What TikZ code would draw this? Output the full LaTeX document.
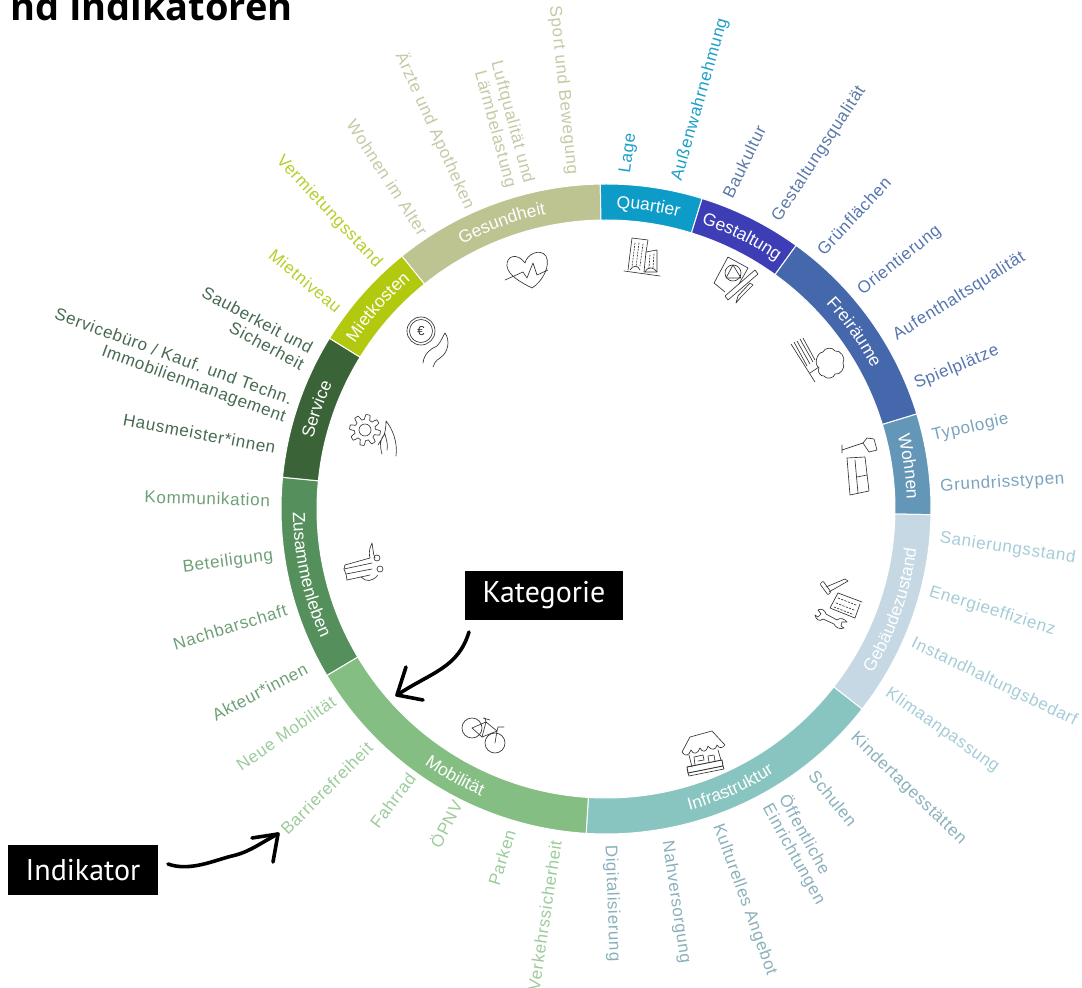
\documentclass[tikz,border=0pt]{standalone}
\usepackage{fontspec}
\setmainfont{Liberation Sans}
\newfontfamily\boxfont{PT Sans}
\newfontfamily\headfont{Open Sans}
\newfontfamily\indfamily[LetterSpace=4]{Liberation Sans}
\usetikzlibrary{positioning}
\usetikzlibrary{decorations.text}
\definecolor{quartierc}{RGB}{12,156,199}
\definecolor{gestaltungc}{RGB}{61,61,181}
\definecolor{freiraeumec}{RGB}{69,103,171}
\definecolor{wohnenc}{RGB}{100,150,184}
\definecolor{gebaeudec}{RGB}{197,216,227}
\definecolor{infrac}{RGB}{136,196,192}
\definecolor{mobilc}{RGB}{132,190,131}
\definecolor{zusammenc}{RGB}{85,144,92}
\definecolor{servicec}{RGB}{58,99,56}
\definecolor{mietec}{RGB}{179,201,15}
\definecolor{gesundc}{RGB}{189,196,146}
\definecolor{quartierl}{RGB}{30,159,199}
\definecolor{gestaltungl}{RGB}{92,121,168}
\definecolor{freiraeumel}{RGB}{86,117,176}
\definecolor{wohnenl}{RGB}{123,163,190}
\definecolor{gebaeudel}{RGB}{165,204,216}
\definecolor{infral}{RGB}{138,176,188}
\definecolor{mobill}{RGB}{156,203,156}
\definecolor{zusammenl}{RGB}{110,159,118}
\definecolor{servicel}{RGB}{72,106,80}
\definecolor{mietel}{RGB}{184,205,40}
\definecolor{gesundl}{RGB}{197,201,165}
\newcommand{\indfont}{\indfamily\fontsize{17}{18.5}\selectfont}
\newcommand{\ringfont}{\fontsize{17.5}{19}\selectfont}
\tikzset{
  indleft/.style={font=\indfont, inner sep=0pt, anchor=east, align=right},
  indright/.style={font=\indfont, inner sep=0pt, anchor=west, align=left},
  segm/.style={draw=white, line width=1pt},
  ringtext/.style={decorate, decoration={text along path, text align=center,
    text={|\ringfont\color{white}|#1}}},
  blackbox/.style={fill=black, text=white, font=\boxfont\fontsize{30}{32}\selectfont, inner sep=0pt},
  handarrow/.style={line width=3.6pt, line cap=round, line join=round},
  icon/.style={line width=0.65pt, black!80, line cap=round, line join=round},
  imgpx/.style={shift={(-606,509)}, yscale=-1}
}

\begin{document}
\begin{tikzpicture}[x=1pt,y=1pt]
\path[use as bounding box, clip] (-606,-479) rectangle (476,509);

\node[anchor=base east, inner sep=0pt, font=\headfont\bfseries\fontsize{38}{40}\selectfont] (title) at (-313,488) {nd Indikatoren};

% ring
\filldraw[segm, fill=gesundc] (128.9:325) arc[start angle=128.9,end angle=91,radius=325] -- (91:289) arc[start angle=91,end angle=128.9,radius=289] -- cycle;
\filldraw[segm, fill=quartierc] (91:325) arc[start angle=91,end angle=72.8,radius=325] -- (72.8:289) arc[start angle=72.8,end angle=91,radius=289] -- cycle;
\filldraw[segm, fill=gestaltungc] (72.8:325) arc[start angle=72.8,end angle=54.2,radius=325] -- (54.2:289) arc[start angle=54.2,end angle=72.8,radius=289] -- cycle;
\filldraw[segm, fill=freiraeumec] (54.2:325) arc[start angle=54.2,end angle=17,radius=325] -- (17:289) arc[start angle=17,end angle=54.2,radius=289] -- cycle;
\filldraw[segm, fill=wohnenc] (17:325) arc[start angle=17,end angle=-1,radius=325] -- (-1:289) arc[start angle=-1,end angle=17,radius=289] -- cycle;
\filldraw[segm, fill=gebaeudec] (-1:325) arc[start angle=-1,end angle=-38,radius=325] -- (-38:289) arc[start angle=-38,end angle=-1,radius=289] -- cycle;
\filldraw[segm, fill=infrac] (-38:325) arc[start angle=-38,end angle=-93.5,radius=325] -- (-93.5:289) arc[start angle=-93.5,end angle=-38,radius=289] -- cycle;
\filldraw[segm, fill=mobilc] (266.5:325) arc[start angle=266.5,end angle=210.8,radius=325] -- (210.8:289) arc[start angle=210.8,end angle=266.5,radius=289] -- cycle;
\filldraw[segm, fill=zusammenc] (210.8:325) arc[start angle=210.8,end angle=174.4,radius=325] -- (174.4:289) arc[start angle=174.4,end angle=210.8,radius=289] -- cycle;
\filldraw[segm, fill=servicec] (174.4:325) arc[start angle=174.4,end angle=148.3,radius=325] -- (148.3:289) arc[start angle=148.3,end angle=174.4,radius=289] -- cycle;
\filldraw[segm, fill=mietec] (148.3:325) arc[start angle=148.3,end angle=128.9,radius=325] -- (128.9:289) arc[start angle=128.9,end angle=148.3,radius=289] -- cycle;

% category names
\path[ringtext=Gesundheit] (130:301) arc[start angle=130,end angle=90,radius=301];
\path[ringtext=Quartier] (92:301) arc[start angle=92,end angle=72,radius=301];
\path[ringtext=Gestaltung] (74:301) arc[start angle=74,end angle=53,radius=301];
\path[ringtext=Freiräume] (55:301) arc[start angle=55,end angle=16,radius=301];
\path[ringtext=Wohnen] (18:301) arc[start angle=18,end angle=-2,radius=301];
\path[ringtext=Gebäudezustand] (-38:313) arc[start angle=-38,end angle=-1,radius=313];
\path[ringtext=Infrastruktur] (-93:313) arc[start angle=-93,end angle=-39,radius=313];
\path[ringtext=Mobilität] (212:313) arc[start angle=212,end angle=269,radius=313];
\path[ringtext=Zusammenleben] (174:313) arc[start angle=174,end angle=211,radius=313];
\path[ringtext=Service] (175:301) arc[start angle=175,end angle=147,radius=301];
\path[ringtext=Mietkosten] (152:301) arc[start angle=152,end angle=125,radius=301];

% indicators
\node[indright, rotate=82, text=quartierl] (lage) at (86.6:336) {Lage};
\node[indright, rotate=74, text=quartierl] (aussen) at (77.8:336) {Außenwahrnehmung};
\node[indright, rotate=64, text=gestaltungl] (baukultur) at (68.8:335) {Baukultur};
\node[indright, rotate=57, text=gestaltungl] (gestqual) at (59.5:335) {Gestaltungsqualität};
\node[indright, rotate=47, text=freiraeumel] (gruen) at (50.2:334) {Grünflächen};
\node[indright, rotate=38.5, text=freiraeumel] (orient) at (40.5:334) {Orientierung};
\node[indright, rotate=32, text=freiraeumel] (aufent) at (30.8:336) {Aufenthaltsqualität};
\node[indright, rotate=22.5, text=freiraeumel] (spiel) at (21.9:333) {Spielplätze};
\node[indright, rotate=13, text=wohnenl] (typo) at (12.5:334) {Typologie};
\node[indright, rotate=3.5, text=wohnenl] (grund) at (3.8:335) {Grundrisstypen};
\node[indright, rotate=-8.5, text=gebaeudel] (sanier) at (-5:335) {Sanierungsstand};
\node[indright, rotate=-17, text=gebaeudel] (energie) at (-14.4:334) {Energieeffizienz};
\node[indright, rotate=-25.7, text=gebaeudel] (instand) at (-23.6:334) {Instandhaltungsbedarf};
\node[indright, rotate=-35, text=gebaeudel] (klima) at (-33:335) {Klimaanpassung};
\node[indright, rotate=-44, text=infral] (kinder) at (-42.5:335) {Kindertagesstätten};
\node[indright, rotate=-51, text=infral] (schulen) at (-52:335) {Schulen};
\node[indright, rotate=-61, text=infral] (oeffent) at (-59.9:337) {Öffentliche\\Einrichtungen};
\node[indright, rotate=-70, text=infral] (kultur) at (-70.6:335) {Kulturelles Angebot};
\node[indright, rotate=-81.6, text=infral] (nahv) at (-79.6:337) {Nahversorgung};
\node[indright, rotate=-88, text=infral] (digital) at (-89.3:336) {Digitalisierung};
\node[indleft, rotate=81.5, text=mobill] (verkehr) at (261.4:335) {Verkehrssicherheit};
\node[indleft, rotate=73, text=mobill] (parken) at (253.4:335) {Parken};
\node[indleft, rotate=63, text=mobill] (oepnv) at (243:328) {ÖPNV};
\node[indleft, rotate=53, text=mobill] (fahrrad) at (233.9:329) {Fahrrad};
\node[indleft, rotate=45, text=mobill] (barriere) at (225:334) {Barrierefreiheit};
\node[indleft, rotate=35, text=mobill] (neuemob) at (215:332) {Neue Mobilität};
\node[indleft, rotate=27.5, text=zusammenl] (akteur) at (207.9:339) {Akteur*innen};
\node[indleft, rotate=17, text=zusammenl] (nachbar) at (197.5:335) {Nachbarschaft};
\node[indleft, rotate=7.5, text=zusammenl] (beteil) at (188:336) {Beteiligung};
\node[indleft, rotate=-1.5, text=zusammenl] (kommu) at (178.5:336) {Kommunikation};
\node[indleft, rotate=-10.5, text=servicel] (haus) at (169.5:336) {Hausmeister*innen};
\node[indleft, rotate=-20, text=servicel] (servbuero) at (162.6:333) {Servicebüro / Kauf. und Techn.\\Immobilienmanagement};
\node[indleft, rotate=-28, text=servicel] (sauber) at (153:335) {Sauberkeit und\\Sicherheit};
\node[indleft, rotate=-40, text=mietel] (mietn) at (143.2:333) {Mietniveau};
\node[indleft, rotate=-47, text=mietel] (vermiet) at (133:333) {Vermietungsstand};
\node[indleft, rotate=-57, text=gesundl] (wohnalter) at (123.5:330) {Wohnen im Alter};
\node[indleft, rotate=-65.7, text=gesundl] (aerzte) at (114.3:330) {Ärzte und Apotheken};
\node[indleft, rotate=-75, text=gesundl] (luft) at (105:335) {Luftqualität und\\Lärmbelastung};
\node[indleft, rotate=-84, text=gesundl] (sport) at (95.8:336) {Sport und Bewegung};

% black labels
\node[blackbox, minimum width=158pt, minimum height=49pt] (kategorie) at (-62,-86.5) {Kategorie};
\node[blackbox, minimum width=150pt, minimum height=50pt] (indikator) at (-523,-361) {Indikator};

\begin{scope}[imgpx]
% hand drawn arrows
\coordinate (katstart) at (469,632);
\coordinate (kattip) at (397,695);
\coordinate (katbarba) at (406,667);
\coordinate (katbarbb) at (423,700);
\coordinate (indstart) at (168,864);
\coordinate (indtip) at (278,834);
\coordinate (indbarba) at (252,838);
\coordinate (indbarbb) at (273,862);
\draw[handarrow] (katstart) .. controls (458,668) and (432,672) .. (kattip);
\draw[handarrow] (katbarba) -- (kattip) -- (katbarbb);
\draw[handarrow] (indstart) .. controls (190,872) and (215,860) .. (232,856) .. controls (250,852) and (262,842) .. (indtip);
\draw[handarrow] (indbarba) -- (indtip) -- (indbarbb);

% heart
\draw[icon] (532,288) .. controls (520,282) and (508,275) .. (507,266) .. controls (506,256) and (517,252) .. (525,263) .. controls (527,254) and (540,248) .. (546,256) .. controls (551,266) and (542,282) .. (532,288);
\draw[icon] (505,280) -- (523,272) -- (527,278) -- (533,263) -- (537,275) -- (548,270);
% buildings
\draw[icon] (628,270) -- (632,238) -- (648,240) -- (646,252);
\draw[icon] (646,252) -- (657,250) -- (657,272) -- (644,272) -- (646,252);
\draw[icon] (624,271) -- (660,276);
\draw[icon, dash pattern=on 1.5pt off 1.5pt] (635,243) -- (632,267) (639,243) -- (636,267) (643,244) -- (640,266);
\draw[icon, dash pattern=on 1.5pt off 1.5pt] (650,255) -- (649,268) (654,254) -- (653,268);
\draw[icon] (630,270) .. controls (633,265) and (638,265) .. (640,270) (645,272) .. controls (648,266) and (654,267) .. (657,272);
% paper and ruler
\draw[icon] (728,257) -- (748,268) -- (739,284) (725,292) -- (714,283) -- (728,257);
\draw[icon] (733,273) circle (8);
\draw[icon] (733,265) -- (726,278) -- (741,278) -- cycle;
\draw[icon] (725,296) -- (755,270) -- (758,274) -- (728,300) -- cycle;
\draw[icon] (753,285) -- (741,297) -- (736,303) -- (738,296) -- (750,283) -- cycle;
% bench and tree
\draw[icon] (791,344) -- (815,382);
\draw[icon] (794,342) -- (807,366) (797,341) -- (810,364) (800,339) -- (813,362) (803,338) -- (815,360);
\draw[icon] (810,373) -- (819,367);
\draw[icon] (819,368) to[bend right=70] (823,352) to[bend right=70] (835,351) to[bend right=70] (843,363) to[bend right=70] (835,374) to[bend right=70] (824,376) to[bend right=70] cycle;
% lamp and sofa
\draw[icon] (842,445) -- (842,453) (842,450) -- (863,443);
\draw[icon] (863,443) -- (867,438) -- (874,439) -- (877,450) -- (869,452) -- cycle;
\draw[icon] (847,458) -- (865,457) -- (869,491) -- (850,495) -- cycle;
\draw[icon] (855,460) -- (858,493) (857,477) -- (867,475);
% hammer, plan and spanner
\draw[icon] (826,587) -- (845,579) -- (848,581) -- (829,592);
\draw[icon, rounded corners=1pt] (820,584) -- (823,581) -- (831,592) -- (828,595) -- cycle;
\draw[icon] (838,593) -- (862,602) (838,593) -- (830,608) -- (855,618) -- (860,604);
\draw[icon, dash pattern=on 2pt off 1.5pt] (838,598) -- (856,605) (836,603) -- (854,610) (834,607) -- (852,614);
\draw[icon] (818,610) .. controls (821,608) and (825,610) .. (826,614) -- (837,620) .. controls (840,617) and (845,619) .. (847,622) -- (842,622) -- (841,626) -- (844,628) .. controls (840,630) and (835,627) .. (834,624) -- (823,619) .. controls (820,622) and (816,620) .. (815,615) -- (818,617) -- (821,614) -- cycle;
% market stall
\draw[icon] (682,752) -- (690,737) -- (712,731) -- (725,745);
\draw[icon] (682,752) .. controls (685,757) and (689,756) .. (691,750) .. controls (693,755) and (698,754) .. (700,748) .. controls (702,753) and (707,752) .. (708,746) .. controls (711,751) and (716,750) .. (717,745) .. controls (719,749) and (723,748) .. (725,745);
\draw[icon] (689,755) -- (692,767) (718,750) -- (721,760);
\draw[icon, line width=0.9pt] (687,767) -- (722,760) -- (723,766) -- (688,773) -- cycle;
\draw[icon] (688,773) -- (689,776) -- (724,769) -- (723,766);
\draw[icon] (695,765) -- (694,757) -- (703,755) -- (704,760) -- (698,761) (709,762) -- (708,756) -- (714,755) -- (715,761);
% bicycle
\draw[icon] (472,728) circle (10);
\draw[icon] (495,743) circle (10);
\draw[icon] (472,728) -- (482,737) -- (497,731) -- (495,743);
\draw[icon] (472,728) -- (486,722) -- (482,737) (486,722) -- (497,731);
\draw[icon] (483,718) -- (490,720) (486,722) -- (485,718);
\draw[icon] (497,731) -- (498,727) -- (504,727);
% hands
\draw[icon] (345,565) -- (370,558) (344,569) -- (372,563) (346,574) -- (372,569) (347,580) -- (370,575);
\draw[icon] (345,565) -- (344,569) -- (346,574) -- (347,580);
\draw[icon] (370,558) .. controls (368,550) and (371,546) .. (372,543) .. controls (373,548) and (373,554) .. (375,558);
\draw[icon] (377,558) circle (3) (380,569) circle (3);
\draw[icon] (361,577) .. controls (366,582) and (372,582) .. (378,575);
% gear and hand
\draw[icon] plot[domain=0:360, samples=97] ({365+(13+2.5*sign(sin(8*\x)))*cos(\x)}, {430+(13+2.5*sign(sin(8*\x)))*sin(\x)}) -- cycle;
\draw[icon] (365,430) circle (6);
\draw[icon] (386,421) .. controls (392,428) and (398,442) .. (396,456) (382,454) .. controls (380,446) and (379,440) .. (385,434) .. controls (387,442) and (388,445) .. (387,450) (378,445) .. controls (382,438) and (386,436) .. (386,421);
% coin and hand
\draw[icon] (421,331) circle (14) (421,331) circle (11.5);
\node[inner sep=0pt, black!80, font=\fontsize{13}{13}\selectfont] (euro) at (421,331) {€};
\draw[icon] (423,363) .. controls (424,354) and (430,349) .. (437,346) .. controls (441,342) and (443,336) .. (445,333) .. controls (450,340) and (449,352) .. (440,358) .. controls (435,361) and (434,364) .. (433,367);
\end{scope}
\end{tikzpicture}
\end{document}
